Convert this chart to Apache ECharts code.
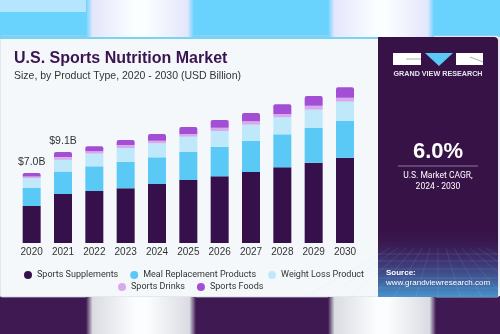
<!DOCTYPE html>
<html>
<head>
<meta charset="utf-8">
<script src="https://cdn.jsdelivr.net/npm/echarts@6/dist/echarts.min.js"></script>
<style>
  html, body { margin: 0; padding: 0; background: #ffffff; }
  #chart { width: 500px; height: 334px; }
</style>
</head>
<body>
<div id="chart"></div>
<script>
// Market size by product type, USD billion
const years = ['2020', '2021', '2022', '2023', '2024', '2025', '2026', '2027', '2028', '2029', '2030'];
const sportsSupplements = [3.70, 4.90, 5.20, 5.47, 5.90, 6.30, 6.67, 7.10, 7.57, 8.03, 8.53];
const mealReplacement   = [1.80, 2.25, 2.47, 2.66, 2.67, 2.83, 2.96, 3.13, 3.30, 3.50, 3.70];
const weightLoss        = [1.00, 1.17, 1.26, 1.37, 1.40, 1.50, 1.57, 1.60, 1.70, 1.80, 1.90];
const sportsDrinks      = [0.15, 0.27, 0.24, 0.30, 0.26, 0.27, 0.33, 0.34, 0.33, 0.40, 0.40];
const sportsFoods       = [0.35, 0.51, 0.50, 0.50, 0.67, 0.70, 0.77, 0.83, 0.97, 0.97, 1.04];
// years whose total is printed above the bar
const labelledYears = ['2020', '2021'];

const seriesNames = ['Sports Supplements', 'Meal Replacement Products', 'Weight Loss Product', 'Sports Drinks', 'Sports Foods'];
const seriesValues = [sportsSupplements, mealReplacement, weightLoss, sportsDrinks, sportsFoods];
const seriesColors = ['#36104a', '#5bc9f5', '#bfe8fb', '#d8a9ec', '#a24fd6'];

const totals = years.map((_, i) => seriesValues.reduce((s, arr) => s + arr[i], 0));

const compact = 'Roboto, "Liberation Sans", Arial, sans-serif';
const sans = '"Liberation Sans", Arial, sans-serif';

const series = seriesNames.map((name, k) => {
  const isTop = k === seriesNames.length - 1;
  const data = seriesValues[k].map((v, i) => {
    if (isTop && labelledYears.includes(years[i])) {
      return {
        value: v,
        label: {
          show: true,
          position: 'top',
          distance: 5,
          formatter: () => '$' + totals[i].toFixed(1) + 'B',
          color: '#333333',
          fontSize: 10.5,
          fontFamily: sans
        }
      };
    }
    return v;
  });
  return {
    name: name,
    type: 'bar',
    stack: 'total',
    barWidth: 18,
    data: data,
    itemStyle: {
      color: seriesColors[k],
      borderRadius: isTop ? [2, 2, 0, 0] : 0
    },
    emphasis: { disabled: true }
  };
});

// soft light stripes in the page bands
function blob(x, y, w, h, outside, edge, mid) {
  return {
    type: 'rect',
    z: -10,
    shape: { x: x, y: y, width: w, height: h },
    style: {
      fill: new echarts.graphic.LinearGradient(0, 0, 1, 0, [
        { offset: 0, color: outside },
        { offset: 0.06, color: edge },
        { offset: 0.45, color: mid },
        { offset: 0.55, color: mid },
        { offset: 0.94, color: edge },
        { offset: 1, color: outside }
      ])
    },
    silent: true
  };
}

const gridLines = [];
[254, 261, 269, 278, 288].forEach((y) => {
  gridLines.push({
    type: 'line', z: -5, silent: true,
    shape: { x1: 378, y1: y, x2: 498, y2: y },
    style: { stroke: 'rgba(170,215,245,0.22)', lineWidth: 0.6 }
  });
});
for (let i = -6; i <= 6; i++) {
  gridLines.push({
    type: 'line', z: -5, silent: true,
    shape: { x1: 438 + i * 8, y1: 248, x2: 438 + i * 22, y2: 297 },
    style: { stroke: 'rgba(170,215,245,0.2)', lineWidth: 0.6 }
  });
}

const graphics = [
  // top band
  { type: 'rect', z: -20, silent: true, shape: { x: 0, y: 0, width: 500, height: 37 }, style: { fill: '#69d3fe' } },
  { type: 'rect', z: -19, silent: true, shape: { x: 0, y: 0, width: 88, height: 12 }, style: { fill: '#b5e6fd' } },
  blob(86, 0, 108, 37, '#69d3fe', '#e4e6fb', '#fbfeff'),
  blob(328, 0, 106, 37, '#69d3fe', '#e4e6fb', '#fbfeff'),
  // bottom band
  { type: 'rect', z: -20, silent: true, shape: { x: 0, y: 296, width: 500, height: 38 }, style: { fill: '#3f1a52' } },
  blob(86, 297, 110, 37, '#3f1a52', '#dadce2', '#fbfdfe'),
  blob(328, 297, 108, 37, '#3f1a52', '#dadce2', '#fbfdfe'),
  // card
  { type: 'rect', z: -15, silent: true, shape: { x: 0, y: 36, width: 499, height: 261, r: 2 }, style: { fill: '#f4f8fb', stroke: '#c9ced6', lineWidth: 0.8 } },
  { type: 'rect', z: -14, silent: true, shape: { x: 0, y: 36, width: 378, height: 3 }, style: { fill: '#7bd3f3' } },
  // side panel
  { type: 'rect', z: -13, silent: true, shape: { x: 378, y: 37, width: 120, height: 260, r: [0, 4, 2, 0] }, style: { fill: '#371247' } },
  {
    type: 'rect', z: -12, silent: true,
    shape: { x: 378, y: 226, width: 120, height: 71, r: [0, 0, 2, 0] },
    style: {
      fill: new echarts.graphic.LinearGradient(0, 0, 0, 1, [
        { offset: 0, color: 'rgba(55,18,71,0)' },
        { offset: 0.4, color: 'rgba(64,62,130,0.5)' },
        { offset: 1, color: 'rgba(72,160,218,0.92)' }
      ])
    }
  },
  ...gridLines,
  // logo
  { type: 'rect', z: -4, silent: true, shape: { x: 393, y: 53, width: 28, height: 12 }, style: { fill: '#ffffff' } },
  { type: 'line', z: -3, silent: true, shape: { x1: 406, y1: 59, x2: 421, y2: 59 }, style: { stroke: '#8c8c96', lineWidth: 0.7 } },
  { type: 'polygon', z: -4, silent: true, shape: { points: [[425, 53], [453, 53], [439, 66]] }, style: { fill: '#5bc9f5' } },
  { type: 'rect', z: -4, silent: true, shape: { x: 456, y: 53, width: 27, height: 12 }, style: { fill: '#ffffff' } },
  { type: 'line', z: -3, silent: true, shape: { x1: 470, y1: 57, x2: 483, y2: 62 }, style: { stroke: '#8c8c96', lineWidth: 0.7 } },
  {
    type: 'text', z: -3, silent: true, x: 438, y: 74,
    style: { text: 'GRAND VIEW RESEARCH', fill: '#e8e4ee', font: 'bold 7.2px ' + sans, align: 'center', verticalAlign: 'middle' }
  },
  // CAGR block
  {
    type: 'text', z: -3, silent: true, x: 438, y: 152,
    style: { text: '6.0%', fill: '#ffffff', font: 'bold 22px ' + sans, align: 'center', verticalAlign: 'middle' }
  },
  { type: 'line', z: -3, silent: true, shape: { x1: 398, y1: 166, x2: 478, y2: 166 }, style: { stroke: '#8a7a99', lineWidth: 1 } },
  {
    type: 'text', z: -3, silent: true, x: 438, y: 176,
    style: { text: 'U.S. Market CAGR,', fill: '#ffffff', font: '8.5px ' + compact, align: 'center', verticalAlign: 'middle' }
  },
  {
    type: 'text', z: -3, silent: true, x: 438, y: 187,
    style: { text: '2024 - 2030', fill: '#ffffff', font: '8.5px ' + compact, align: 'center', verticalAlign: 'middle' }
  },
  // source
  {
    type: 'text', z: -3, silent: true, x: 386, y: 273,
    style: { text: 'Source:', fill: '#ffffff', font: 'bold 8px ' + sans, verticalAlign: 'middle' }
  },
  {
    type: 'text', z: -3, silent: true, x: 386, y: 283,
    style: { text: 'www.grandviewresearch.com', fill: '#ffffff', font: '8px ' + sans, verticalAlign: 'middle' }
  }
];

const chart = echarts.init(document.getElementById('chart'), null, { renderer: 'canvas' });
chart.setOption({
  animation: false,
  backgroundColor: 'transparent',
  title: {
    text: 'U.S. Sports Nutrition Market',
    subtext: 'Size, by Product Type, 2020 - 2030 (USD Billion)',
    left: 9,
    top: 46,
    itemGap: 4,
    textStyle: { color: '#3a1450', fontSize: 16, fontWeight: 'bold', fontFamily: sans },
    subtextStyle: { color: '#333333', fontSize: 10.5, fontFamily: sans }
  },
  legend: [
    {
      data: seriesNames.slice(0, 3),
      left: 19, top: 265.5,
      icon: 'circle', itemWidth: 8, itemHeight: 8, itemGap: 12,
      textStyle: { color: '#333333', fontSize: 9, fontFamily: compact },
      selectedMode: false
    },
    {
      data: seriesNames.slice(3),
      left: 113, top: 277.5,
      icon: 'circle', itemWidth: 8, itemHeight: 8, itemGap: 12,
      textStyle: { color: '#333333', fontSize: 9, fontFamily: compact },
      selectedMode: false
    }
  ],
  grid: { left: 16, right: 139.33, top: 83, bottom: 91, containLabel: false },
  xAxis: {
    type: 'category',
    data: years,
    axisLine: { show: false },
    axisTick: { show: false },
    axisLabel: { color: '#333333', fontSize: 10, fontFamily: sans, margin: 4 }
  },
  yAxis: {
    type: 'value',
    min: 0,
    max: 16,
    show: false
  },
  graphic: graphics,
  series: series
});
</script>
</body>
</html>
